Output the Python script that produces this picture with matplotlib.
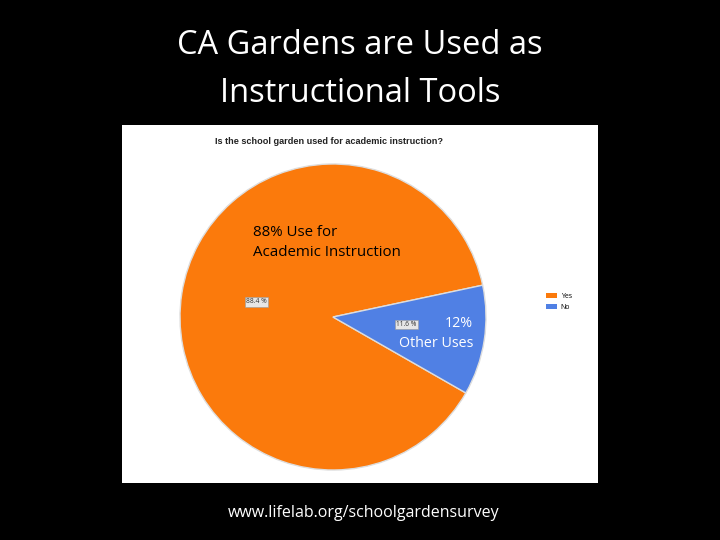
import matplotlib
matplotlib.use("Agg")
import matplotlib.pyplot as plt
from matplotlib.patches import Patch

labels = ["Yes", "No"]
shares = [88.4, 11.6]
colors = ["#fb7a0c", "#5080e4"]
title_lines = ["CA Gardens are Used as", "Instructional Tools"]
chart_question = "Is the school garden used for academic instruction?"
note_yes = "88% Use for\nAcademic Instruction"
note_no = ["12%", "Other Uses"]
footer = "www.lifelab.org/schoolgardensurvey"

plt.rcParams["font.family"] = ["Open Sans", "DejaVu Sans"]

fig = plt.figure(figsize=(7.2, 5.4), dpi=100, facecolor="black")

# slide title
fig.text(0.5, 1 - 46 / 540, title_lines[0], ha="center", va="center",
         color="white", fontsize=23.5)
fig.text(0.5, 1 - 93 / 540, title_lines[1], ha="center", va="center",
         color="white", fontsize=23.5)

# white panel of the screenshot
panel = fig.add_axes([122 / 720, 57 / 540, 476 / 720, 358 / 540])
panel.set_facecolor("white")
panel.set_xticks([])
panel.set_yticks([])
for s in panel.spines.values():
    s.set_visible(False)
panel.text((215 - 122) / 476, 1 - 17 / 358, chart_question,
           transform=panel.transAxes, fontsize=6.6, fontweight="bold",
           family=["Liberation Sans"], ha="left", va="center",
           color="#222222")

# pie
ax = fig.add_axes([180 / 720, 70 / 540, 306 / 720, 306 / 540])
wedges, _, autotexts = ax.pie(
    shares, colors=colors, startangle=12, counterclock=True,
    autopct="%.1f %%", pctdistance=0.72,
    wedgeprops=dict(edgecolor="#dddddd", linewidth=1),
    textprops=dict(fontsize=4.8, color="#333333"),
)
ax.set_xlim(-1, 1)
ax.set_ylim(-1, 1)
ax.set_aspect("equal")
for t in autotexts:
    t.set_bbox(dict(boxstyle="square,pad=0.2", facecolor="#e6e6e6",
                    edgecolor="#999999", linewidth=0.4))
autotexts[0].set_position((-0.5, 0.1))
autotexts[1].set_position((0.48, -0.05))

ax.text(-0.523, 0.49, note_yes, ha="left", va="center", fontsize=10.8,
        color="black", linespacing=1.45)
# the "other uses" note, one line per text
ax.text(0.915, -0.04, note_no[0], ha="right", va="center", fontsize=10.3,
        color="white")
ax.text(0.915, -0.17, note_no[1], ha="right", va="center", fontsize=10.3,
        color="white")

# legend
handles = [Patch(facecolor=c, label=l) for c, l in zip(colors, labels)]
leg = fig.legend(handles=handles, loc="center left",
                 bbox_to_anchor=(540 / 720, 1 - 302 / 540),
                 frameon=False, fontsize=5, handlelength=1.6,
                 handleheight=0.6, labelspacing=0.6, handletextpad=0.5)

fig.text(364 / 720, 1 - 513 / 540, footer, ha="center", va="center",
         color="white", fontsize=11.5)

fig.savefig("out.png", dpi=100, facecolor="black")
